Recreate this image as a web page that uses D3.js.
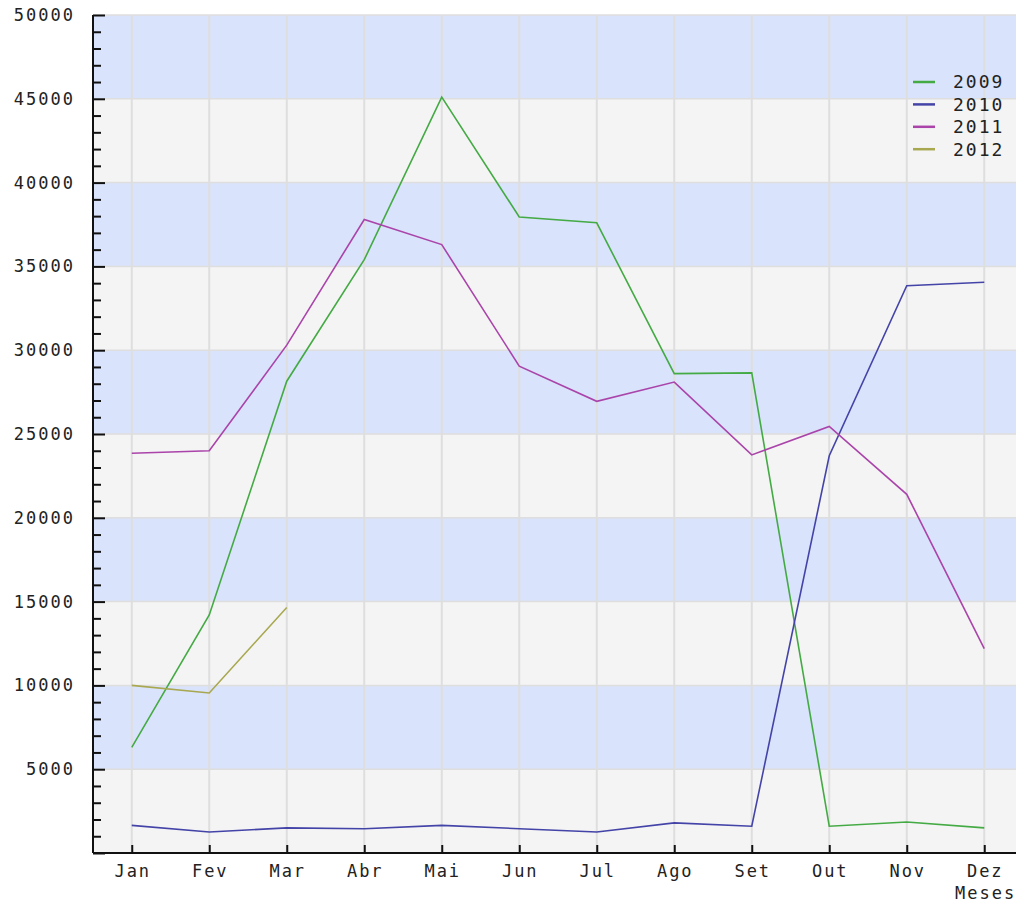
<!DOCTYPE html>
<html>
<head>
<meta charset="utf-8">
<script src="https://cdn.jsdelivr.net/npm/d3@7"></script>
<style>
  body { margin: 0; background: #fff; }
  text { font-family: "DejaVu Sans Mono", monospace; font-size: 17px; fill: #222; letter-spacing: 2px; }
</style>
</head>
<body>
<div id="chart"></div>
<script>
// meses no eixo x
const meses = ['Jan', 'Fev', 'Mar', 'Abr', 'Mai', 'Jun', 'Jul', 'Ago', 'Set', 'Out', 'Nov', 'Dez'];

// valores por ano
const anos = ['2009', '2010', '2011', '2012'];
const v2009 = [6300, 14200, 28150, 35400, 45100, 37950, 37600, 28600, 28650, 1600, 1850, 1500];
const v2010 = [1650, 1250, 1500, 1450, 1650, 1450, 1250, 1800, 1600, 23700, 33850, 34050];
const v2011 = [23850, 24000, 30300, 37800, 36300, 29050, 26950, 28100, 23750, 25450, 21400, 12200];
const v2012 = [10000, 9550, 14650];
const yTicks = [5000, 10000, 15000, 20000, 25000, 30000, 35000, 40000, 45000, 50000];

const cores = ['#44aa44', '#4444a8', '#aa44aa', '#a8a850'];
const series = [v2009, v2010, v2011, v2012];

const W = 1016, H = 902;
const margemEsq = 93, topo = 15, base = 853;

const svg = d3.select('#chart').append('svg')
    .attr('width', W)
    .attr('height', H);

const x = d3.scalePoint().domain(meses).range([margemEsq, 1023]).padding(0.5);
const y = d3.scaleLinear().domain([0, 50000]).range([base, topo]);

// faixas alternadas a cada 5000
const faixas = d3.range(0, 50000, 5000);
svg.append('g').selectAll('rect')
    .data(faixas)
    .join('rect')
    .attr('x', margemEsq)
    .attr('width', W - margemEsq)
    .attr('y', d => y(d + 5000))
    .attr('height', d => y(d) - y(d + 5000))
    .attr('fill', d => (d / 5000) % 2 === 1 ? '#d9e3fb' : '#f4f4f4');

// grade horizontal
svg.append('g').selectAll('line')
    .data(yTicks)
    .join('line')
    .attr('x1', margemEsq).attr('x2', W)
    .attr('y1', d => y(d)).attr('y2', d => y(d))
    .attr('stroke', '#dedede').attr('stroke-width', 1.5);

// grade vertical
svg.append('g').selectAll('line')
    .data(meses)
    .join('line')
    .attr('x1', d => x(d)).attr('x2', d => x(d))
    .attr('y1', topo).attr('y2', base)
    .attr('stroke', '#dedede').attr('stroke-width', 2);

// eixo y com ticks menores a cada 1000, para dentro
const yAxis = svg.append('g').attr('transform', `translate(${margemEsq},0)`);
yAxis.call(d3.axisRight(y).tickValues(d3.range(0, 50001, 1000)).tickSize(8).tickFormat(''));
yAxis.call(g => g.selectAll('.tick line').filter(d => d % 5000 === 0).attr('x2', 12));
yAxis.call(g => g.select('.domain').attr('d', `M0,${topo}V${base}`));
yAxis.selectAll('line, path').attr('stroke', '#111').attr('stroke-width', 2);

svg.append('g').selectAll('text')
    .data(yTicks)
    .join('text')
    .attr('x', 75)
    .attr('y', d => y(d))
    .attr('dy', '0.35em')
    .attr('text-anchor', 'end')
    .text(d => d);

// eixo x, ticks para cima
const xAxis = svg.append('g').attr('transform', `translate(0,${base})`);
xAxis.call(d3.axisTop(x).tickSize(8).tickFormat(''));
xAxis.call(g => g.select('.domain').attr('d', `M${margemEsq},0H${W}`));
xAxis.selectAll('line, path').attr('stroke', '#111').attr('stroke-width', 2);

svg.append('g').selectAll('text')
    .data(meses)
    .join('text')
    .attr('x', d => x(d) + 1)
    .attr('y', 871)
    .attr('dy', '0.35em')
    .attr('text-anchor', 'middle')
    .text(d => d);

svg.append('text')
    .attr('x', 955)
    .attr('y', 893)
    .attr('dy', '0.35em')
    .text('Meses');

// linhas das séries
const linha = d3.line()
    .x((d, i) => x(meses[i]))
    .y(d => y(d));

series.forEach((s, k) => {
    svg.append('path')
        .datum(s)
        .attr('fill', 'none')
        .attr('stroke', cores[k])
        .attr('stroke-width', 1.6)
        .attr('d', linha);
});

// legenda
const leg = svg.append('g').attr('transform', 'translate(913,82)');
anos.forEach((a, i) => {
    const r = leg.append('g').attr('transform', `translate(0,${i * 22.4})`);
    r.append('line')
        .attr('x1', 0).attr('x2', 22)
        .attr('stroke', cores[i]).attr('stroke-width', 2.5);
    r.append('text')
        .attr('x', 40)
        .attr('dy', '0.35em')
        .style('font-size', '18px')
        .text(a);
});
</script>
</body>
</html>
